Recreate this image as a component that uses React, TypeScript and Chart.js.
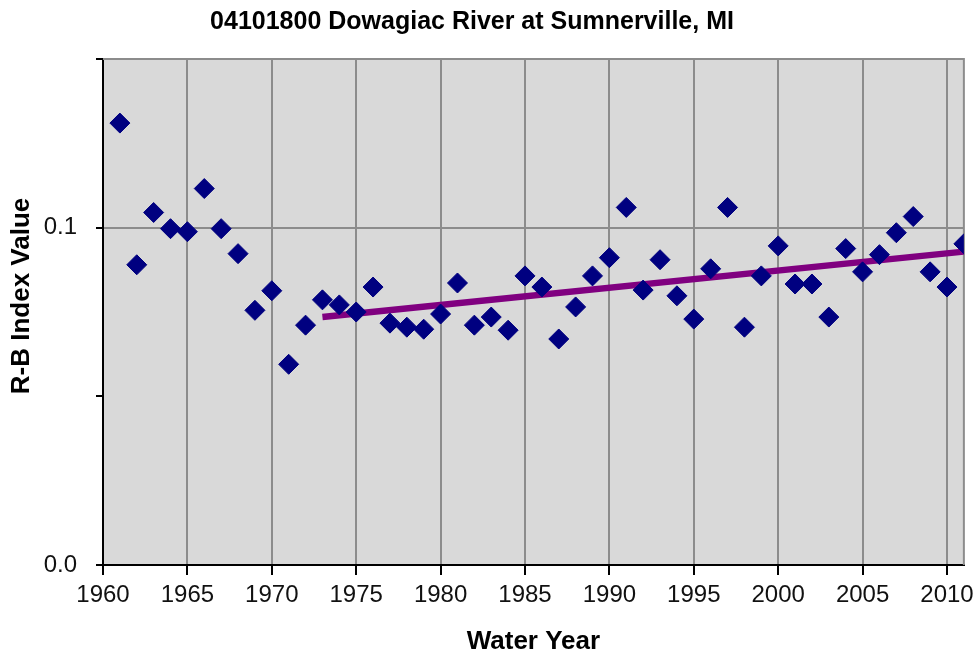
import React, { useEffect, useRef } from "react";
import { Chart, registerables } from "chart.js";

Chart.register(...registerables);

const chartTitle = "04101800 Dowagiac River at Sumnerville, MI";
const yAxisTitle = "R-B Index Value";
const xAxisTitle = "Water Year";

const years = [
  1961, 1962, 1963, 1964, 1965, 1966, 1967, 1968, 1969, 1970,
  1971, 1972, 1973, 1974, 1975, 1976, 1977, 1978, 1979, 1980,
  1981, 1982, 1983, 1984, 1985, 1986, 1987, 1988, 1989, 1990,
  1991, 1992, 1993, 1994, 1995, 1996, 1997, 1998, 1999, 2000,
  2001, 2002, 2003, 2004, 2005, 2006, 2007, 2008, 2009, 2010, 2011,
];

const rbIndex = [
  0.131, 0.089, 0.1045, 0.0997, 0.0988, 0.1116, 0.0997, 0.0923, 0.0755, 0.0813,
  0.0595, 0.0711, 0.0786, 0.0771, 0.075, 0.0824, 0.0717, 0.0705, 0.0699, 0.0744,
  0.0836, 0.0711, 0.0735, 0.0696, 0.0857, 0.0824, 0.067, 0.0765, 0.0857, 0.0911,
  0.106, 0.0815, 0.0905, 0.0798, 0.0729, 0.0878, 0.106, 0.0705, 0.0857, 0.0946,
  0.0833, 0.0833, 0.0735, 0.0938, 0.0869, 0.092, 0.0985, 0.1033, 0.0869, 0.0824, 0.0952,
];

const trendYears = [1973, 2011];
const trendValues = [0.0735, 0.0929];

const xTickValues = [1960, 1965, 1970, 1975, 1980, 1985, 1990, 1995, 2000, 2005, 2010];
const yTickValues = [0, 0.05, 0.1, 0.15];
const yTickLabels = ["0.0", "", "0.1", ""];

const FONT = "'Liberation Sans', Arial, sans-serif";

export default function App() {
  const canvasRef = useRef<HTMLCanvasElement | null>(null);

  useEffect(() => {
    const canvas = canvasRef.current;
    if (!canvas) return;

    const bgPlugin = {
      id: "plotBg",
      beforeDraw(chart: any) {
        const { ctx, chartArea } = chart;
        ctx.save();
        ctx.fillStyle = "#d9d9d9";
        ctx.fillRect(chartArea.left, chartArea.top, chartArea.right - chartArea.left, chartArea.bottom - chartArea.top);
        ctx.restore();
      },
      beforeDatasetsDraw(chart: any) {
        const { ctx, chartArea } = chart;
        ctx.save();
        ctx.strokeStyle = "#8c8c8c";
        ctx.lineWidth = 2;
        ctx.beginPath();
        ctx.moveTo(chartArea.left, chartArea.top);
        ctx.lineTo(chartArea.right, chartArea.top);
        ctx.lineTo(chartArea.right, chartArea.bottom);
        ctx.stroke();
        ctx.restore();
      },
      afterDraw(chart: any) {
        const { ctx } = chart;
        ctx.save();
        ctx.fillStyle = "#000";
        ctx.textAlign = "center";
        ctx.textBaseline = "middle";
        ctx.font = `bold 25px ${FONT}`;
        ctx.fillText(chartTitle, 472, 22);
        ctx.translate(22, 296);
        ctx.rotate(-Math.PI / 2);
        ctx.font = `bold 26px ${FONT}`;
        ctx.fillText(yAxisTitle, 0, 0);
        ctx.restore();
      },
    };

    const chart = new Chart(canvas, {
      type: "scatter",
      data: {
        datasets: [
          {
            type: "scatter",
            label: "R-B Index",
            data: years.map((yr, i) => ({ x: yr, y: rbIndex[i] })),
            pointStyle: "rectRot",
            pointRadius: 10,
            pointHoverRadius: 10,
            backgroundColor: "#000080",
            borderColor: "#000080",
            borderWidth: 1,
            order: 0,
          },
          {
            type: "line",
            label: "Trend",
            data: trendYears.map((yr, i) => ({ x: yr, y: trendValues[i] })),
            borderColor: "#800080",
            borderWidth: 6.5,
            pointRadius: 0,
            fill: false,
            order: 1,
          } as any,
        ],
      },
      options: {
        responsive: false,
        animation: false,
        layout: { padding: { top: 59, right: 16, bottom: 0, left: 0 } },
        plugins: {
          legend: { display: false },
          title: { display: false },
          tooltip: { enabled: false },
        },
        scales: {
          x: {
            type: "linear",
            min: 1960,
            max: 2011,
            afterBuildTicks(scale: any) {
              scale.ticks = xTickValues.map((v) => ({ value: v }));
            },
            afterFit(scale: any) {
              scale.height = 90;
            },
            ticks: {
              autoSkip: false,
              maxRotation: 0,
              padding: 6,
              color: "#111",
              font: { family: FONT, size: 24 },
              callback: (v: any) => String(v),
            },
            grid: {
              color: (ctx: any) => (ctx.tick && ctx.tick.value === 1960 ? "rgba(0,0,0,0)" : "#8c8c8c"),
              lineWidth: 2,
              tickColor: "#000",
              tickLength: 10,
              drawTicks: true,
            },
            border: { color: "#000", width: 2 },
            title: {
              display: true,
              text: xAxisTitle,
              color: "#000",
              font: { family: FONT, size: 26, weight: "bold", lineHeight: 1 },
              padding: { top: 0, bottom: 0 },
            },
          },
          y: {
            type: "linear",
            min: 0,
            max: 0.15,
            afterBuildTicks(scale: any) {
              scale.ticks = yTickValues.map((v) => ({ value: v }));
            },
            afterFit(scale: any) {
              scale.width = 103;
            },
            ticks: {
              autoSkip: false,
              padding: 19,
              color: "#111",
              font: { family: FONT, size: 24 },
              callback: (_v: any, i: number) => yTickLabels[i] ?? "",
            },
            grid: {
              color: (ctx: any) =>
                ctx.tick && Math.abs(ctx.tick.value - 0.1) < 1e-9 ? "#8c8c8c" : "rgba(0,0,0,0)",
              lineWidth: 2,
              tickColor: "#000",
              tickLength: 7,
              drawTicks: true,
            },
            border: { color: "#000", width: 2 },
          },
        },
      },
      plugins: [bgPlugin],
    } as any);

    return () => chart.destroy();
  }, []);

  return (
    <div style={{ position: "absolute", left: 0, top: 0, width: 980, height: 655, background: "#fff" }}>
      <canvas ref={canvasRef} width={980} height={655} style={{ width: 980, height: 655, display: "block" }} />
    </div>
  );
}
